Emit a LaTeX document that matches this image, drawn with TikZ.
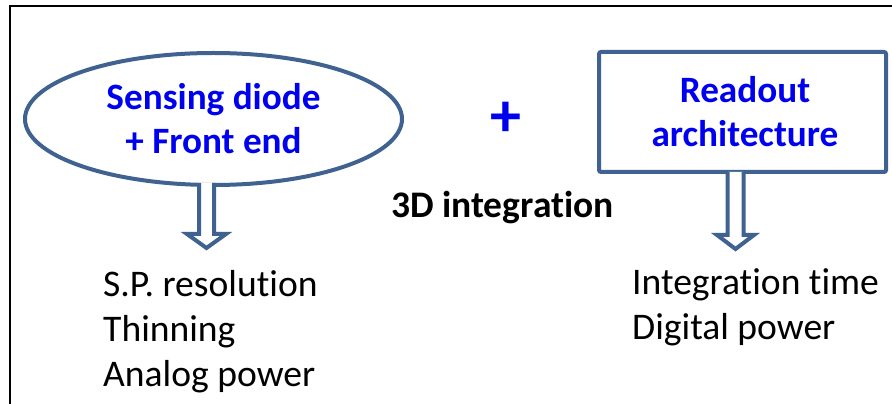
\documentclass[tikz,border=0pt]{standalone}
\usepackage{fontspec}
\setmainfont{Carlito}[Ligatures=NoCommon]
\usetikzlibrary{shapes.geometric}
\definecolor{outl}{HTML}{3F6290}
\definecolor{txtblue}{HTML}{0000F0}
\tikzset{
  x=1pt,y=1pt,
  shapeline/.style={draw=outl,line width=4pt},
  bluetxt/.style={text=txtblue,font=\fontsize{37.2}{44.5}\selectfont\bfseries,inner sep=0pt,align=center},
  listtxt/.style={text=black,font=\fontsize{37.6}{45}\selectfont,inner sep=0pt,align=left},
  hollowarrow/.style={draw=outl,line width=4pt,fill=white,line join=miter},
}
\begin{document}
\begin{tikzpicture}
\useasboundingbox (0,0) rectangle (892,404);
% frame
\draw[line width=2pt] (10,0) -- (10,397.5) -- (892,397.5);
% ellipse
\node[shapeline,ellipse,minimum width=377pt,minimum height=132pt,inner sep=0pt] (ell) at (213.5,285) {};
\node[bluetxt,anchor=base] (elltxt) at (213.5,250) {Sensing diode\\+ Front end};
% rectangle
\node[shapeline,rectangle,rounded corners=2pt,minimum width=287pt,minimum height=120pt,inner sep=0pt] (rect) at (742.5,292) {};
\node[bluetxt,anchor=base] (recttxt) at (745,257) {Readout\\architecture};
% plus and 3D integration
\node[text=txtblue,font=\fontsize{62}{62}\selectfont\bfseries,inner sep=0pt] (plus) at (506,285) {+};
\node[font=\fontsize{37.5}{37.5}\selectfont\bfseries,inner sep=0pt,anchor=base] (integ) at (502.5,186) {3D integration};
% lists
\node[listtxt,anchor=base west] (leftlist) at (103,17) {S.P. resolution\\Thinning\\Analog power};
\node[listtxt,anchor=base west] (rightlist) at (632,64) {Integration time\\Digital power};
% hollow arrows
\draw[hollowarrow] (199,221) -- (199,170) -- (187,170) -- (206.5,156) -- (226,170) -- (214,170) -- (214,221);
\draw[hollowarrow] (727.5,232) -- (727.5,169) -- (717,169) -- (735.5,155) -- (754,169) -- (743.5,169) -- (743.5,232);
\end{tikzpicture}
\end{document}
